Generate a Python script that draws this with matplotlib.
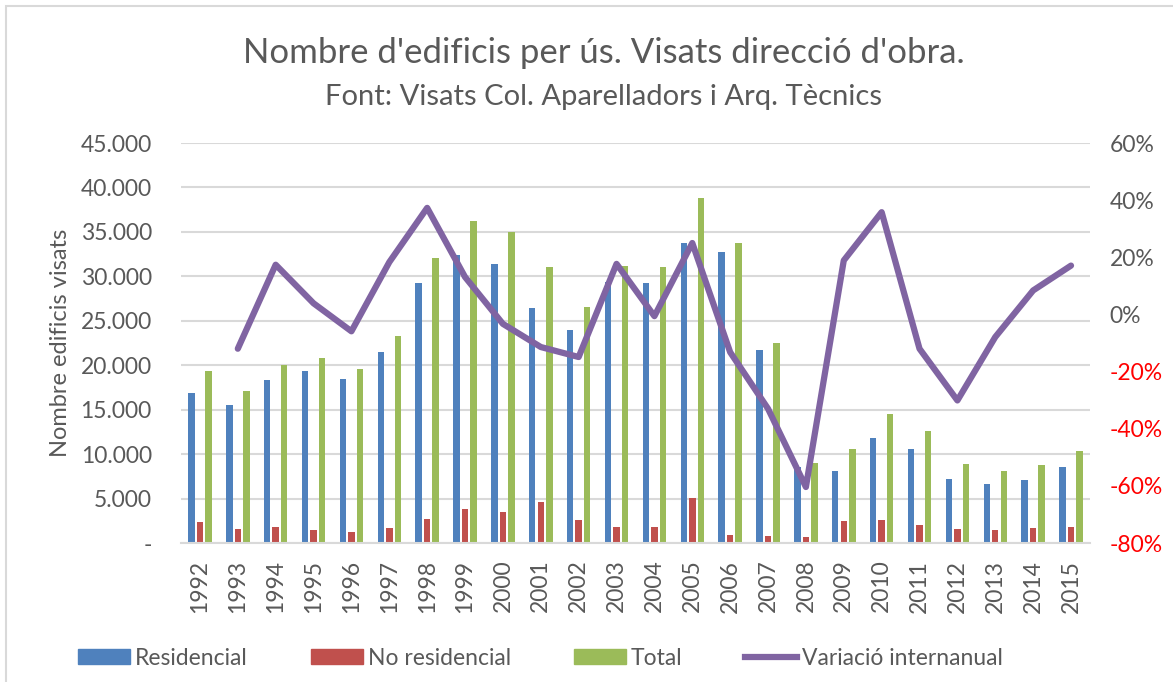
import matplotlib
matplotlib.use("Agg")
import matplotlib.pyplot as plt
import numpy as np
from matplotlib.lines import Line2D
from matplotlib.patches import Patch, Rectangle
from matplotlib.ticker import FuncFormatter

# --- data ---
years = [str(y) for y in range(1992, 2016)]
residencial = [16900, 15500, 18300, 19300, 18400, 21500, 29200, 32400, 31400, 26400,
               24000, 29400, 29250, 33750, 32750, 21700, 8600, 8100, 11850, 10600,
               7250, 6600, 7050, 8500]
no_residencial = [2400, 1550, 1750, 1450, 1200, 1700, 2750, 3800, 3500, 4600,
                  2550, 1850, 1750, 5050, 900, 800, 650, 2500, 2550, 2050,
                  1550, 1450, 1700, 1800]
total = [19350, 17050, 20050, 20850, 19600, 23250, 32050, 36250, 35000, 31000,
         26500, 31200, 31050, 38800, 33700, 22450, 8950, 10600, 14500, 12650,
         8850, 8100, 8800, 10300]
# interannual variation (%), first year has no value
variacio = [np.nan, -12.0, 17.4, 3.9, -5.9, 18.3, 37.3, 13.1, -3.3, -11.4,
            -14.9, 17.7, -0.6, 25.0, -13.2, -33.0, -60.4, 18.9, 35.8, -12.0,
            -30.1, -7.9, 8.4, 17.1]

left_ticks = list(range(0, 45001, 5000))
right_ticks = list(range(-80, 61, 20))

BLUE = "#4F81BD"
RED = "#C0504D"
GREEN = "#9BBB59"
PURPLE = "#8064A2"
GREY = "#595959"

plt.rcParams["font.family"] = ["Lato", "DejaVu Sans"]

fig = plt.figure(figsize=(11.73, 6.82), dpi=100)
ax = fig.add_axes([0.1543, 0.2038, 0.7749, 0.5865])
ax2 = ax.twinx()

x = np.arange(len(years))
w = 0.17
step = 0.225
ax.bar(x - step, residencial, w, color=BLUE, zorder=2)
ax.bar(x, no_residencial, w, color=RED, zorder=2)
ax.bar(x + step, total, w, color=GREEN, zorder=2)

ax2.plot(x, variacio, color=PURPLE, lw=4.5, solid_joinstyle="round",
         solid_capstyle="round", zorder=3)

ax.set_xlim(-0.5, len(years) - 0.5)
ax.set_ylim(0, 45000)
ax2.set_ylim(-80, 60)

ax.set_yticks(left_ticks)
ax.yaxis.set_major_formatter(FuncFormatter(
    lambda v, _: "-" if v == 0 else f"{int(v):,}".replace(",", ".")))
ax2.set_yticks(right_ticks)
ax2.yaxis.set_major_formatter(FuncFormatter(lambda v, _: f"{int(v)}%"))

ax.set_xticks(x)
ax.set_xticklabels(years, rotation=90)
ax.grid(axis="y", color="#D9D9D9", lw=1.5, zorder=0)
ax.set_axisbelow(True)

for a in (ax, ax2):
    for s in a.spines.values():
        s.set_visible(False)
    a.tick_params(length=0, labelsize=16.5, colors=GREY)
ax.spines["bottom"].set_visible(True)
ax.spines["bottom"].set_color("#D9D9D9")
ax.spines["bottom"].set_linewidth(1.5)
ax.tick_params(axis="y", pad=21)
ax.tick_params(axis="x", pad=12)
ax2.tick_params(axis="y", pad=14)
for lbl, v in zip(ax2.get_yticklabels(), right_ticks):
    if v < 0:
        lbl.set_color("red")

ax.set_ylabel("Nombre edificis visats", fontsize=17, color=GREY, labelpad=7)

fig.text(0.5145, 0.923, "Nombre d'edificis per ús. Visats direcció d'obra.",
         ha="center", va="center", fontsize=25, color=GREY)
fig.text(0.5145, 0.858, "Font: Visats Col. Aparelladors i Arq. Tècnics",
         ha="center", va="center", fontsize=21, color=GREY)

handles = [Patch(color=BLUE), Patch(color=RED), Patch(color=GREEN),
           Line2D([], [], color=PURPLE, lw=4.5)]
labels = ["Residencial", "No residencial", "Total", "Variació internanual"]
fig.legend(handles, labels, loc="center", bbox_to_anchor=(0.461, 0.035), ncol=4,
           frameon=False, fontsize=16.5, labelcolor=GREY, handlelength=2.27,
           handleheight=0.6, handletextpad=0.22, columnspacing=2.74)

fig.patches.append(Rectangle((6 / 1173, -0.1), 1.2, 1.1 - 6 / 682,
                             transform=fig.transFigure, fill=False,
                             edgecolor="#D9D9D9", lw=1.5))

fig.savefig("out.png", dpi=100)
